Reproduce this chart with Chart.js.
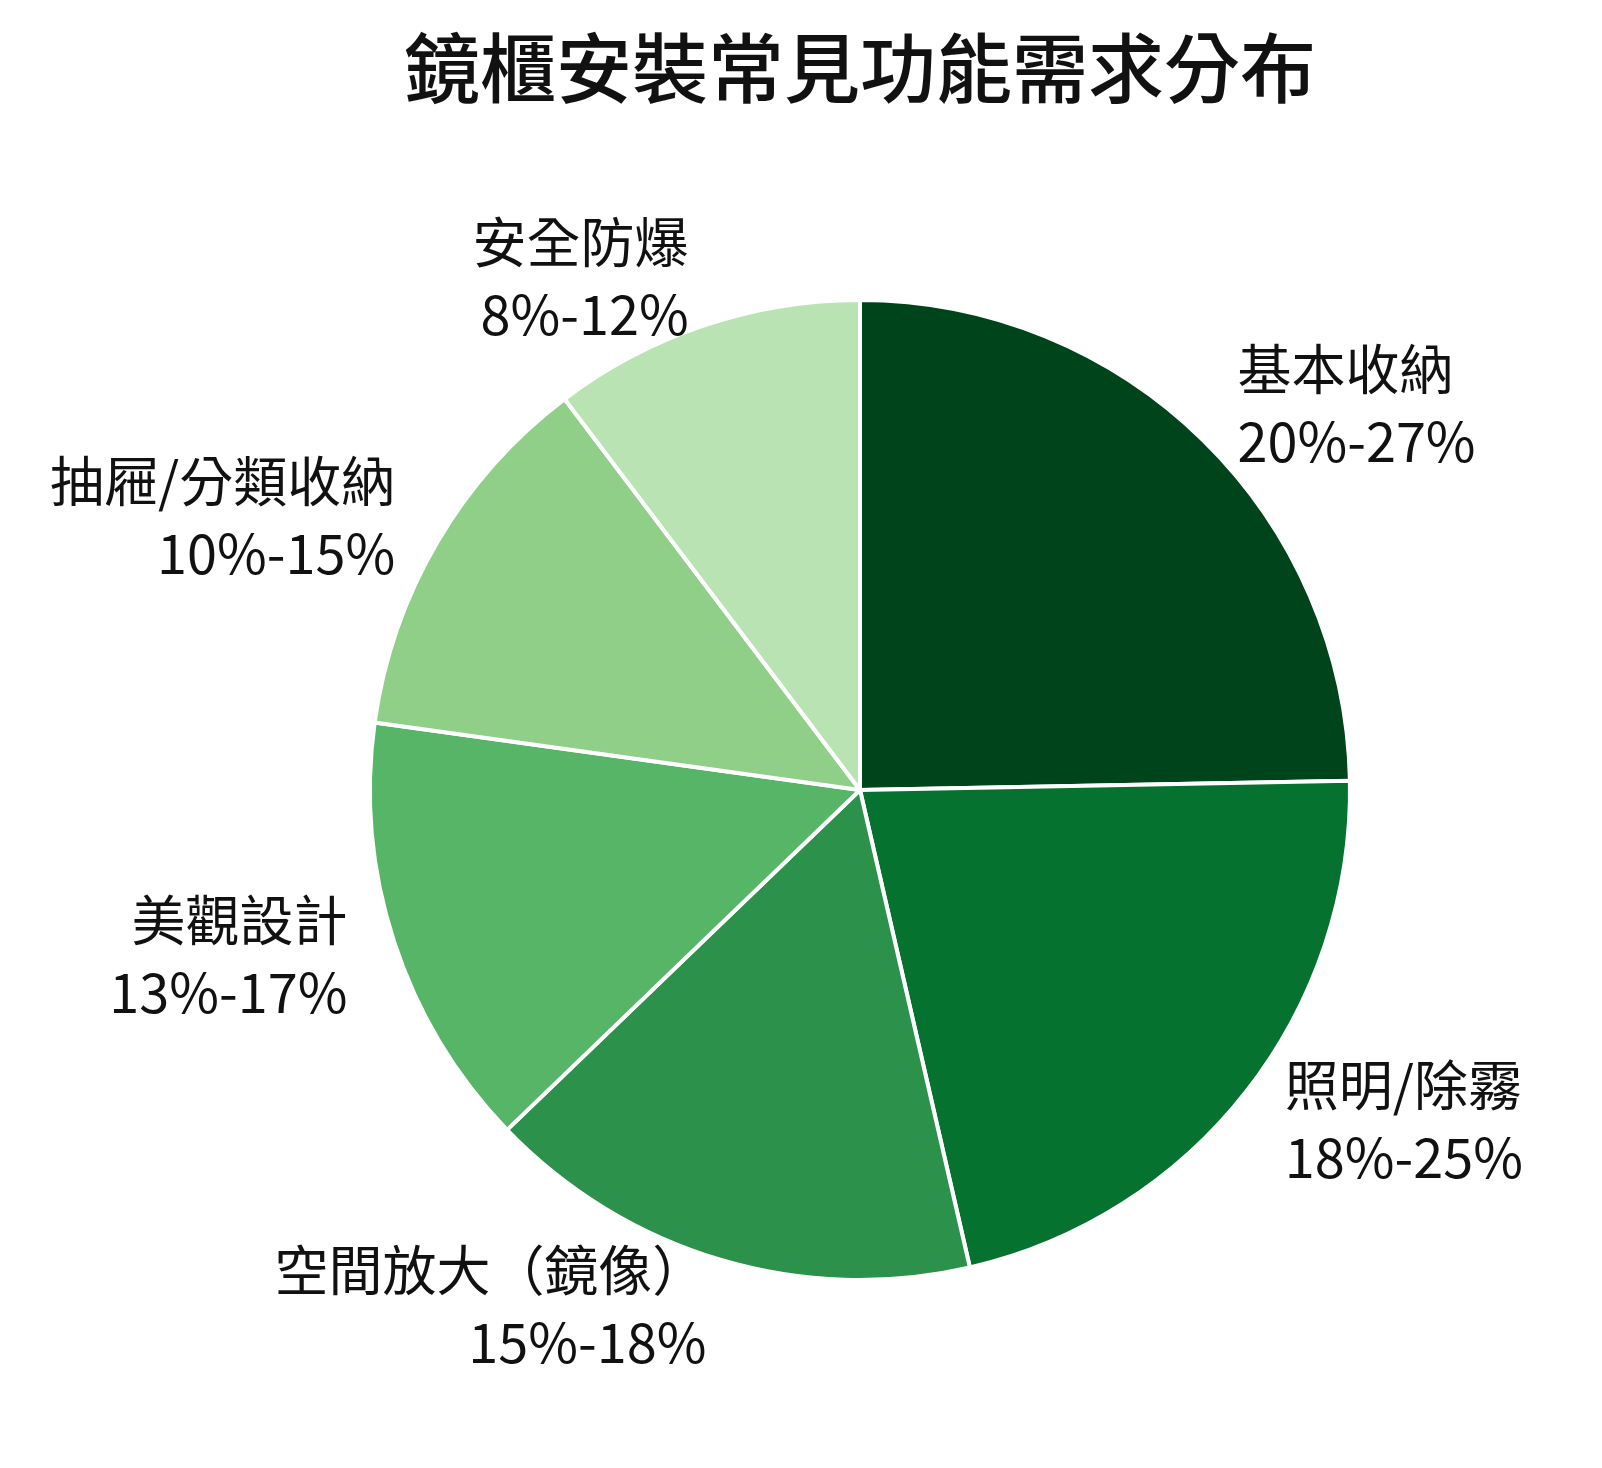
<!DOCTYPE html>
<html><head><meta charset="utf-8">
<script src="https://cdn.jsdelivr.net/npm/chart.js@4"></script>
<style>html,body{margin:0;background:#fff;overflow:hidden}#w{width:1602px;height:1468px}canvas{display:block}</style>
</head><body><div id="w"><canvas id="c"></canvas></div>
<script>
const labels = ["基本收納", "照明/除霧", "空間放大（鏡像）", "美觀設計", "抽屜/分類收納", "安全防爆"];
const ranges = ["20%-27%", "18%-25%", "15%-18%", "13%-17%", "10%-15%", "8%-12%"];
const shares = [24.7, 21.7, 16.4, 14.4, 12.5, 10.3];
const colors = ["#00441b", "#06722f", "#2b914b", "#56b567", "#8fcf88", "#b9e3b2"];
const FONT = '"Noto Sans CJK TC", "Noto Sans CJK SC", sans-serif';

const outerLabels = {
  id: 'outerLabels',
  afterDraw(chart) {
    const ctx = chart.ctx;
    ctx.save();
    ctx.fillStyle = '#111';
    ctx.font = '500 76px ' + FONT;
    ctx.textAlign = 'center';
    ctx.textBaseline = 'middle';
    ctx.fillText('鏡櫃安裝常見功能需求分布', 860, 68);
    ctx.font = '54px ' + FONT;
    chart.getDatasetMeta(0).data.forEach((arc, i) => {
      const mid = (arc.startAngle + arc.endAngle) / 2;
      const r = arc.outerRadius * 1.1;
      const x = arc.x + Math.cos(mid) * r;
      const y = arc.y + Math.sin(mid) * r;
      ctx.textAlign = Math.cos(mid) >= 0 ? 'left' : 'right';
      ctx.fillText(labels[i], x, y - 36);
      ctx.fillText(ranges[i], x, y + 36);
    });
    ctx.restore();
  }
};

new Chart(document.getElementById('c'), {
  type: 'pie',
  data: { labels: labels, datasets: [{ data: shares, backgroundColor: colors, borderColor: '#fff', borderWidth: 4 }] },
  options: {
    responsive: true, maintainAspectRatio: false, animation: false,
    layout: { padding: { top: 298, bottom: 186, left: 368, right: 250 } },
    plugins: { legend: { display: false }, tooltip: { enabled: false } }
  },
  plugins: [outerLabels]
});
</script></body></html>
